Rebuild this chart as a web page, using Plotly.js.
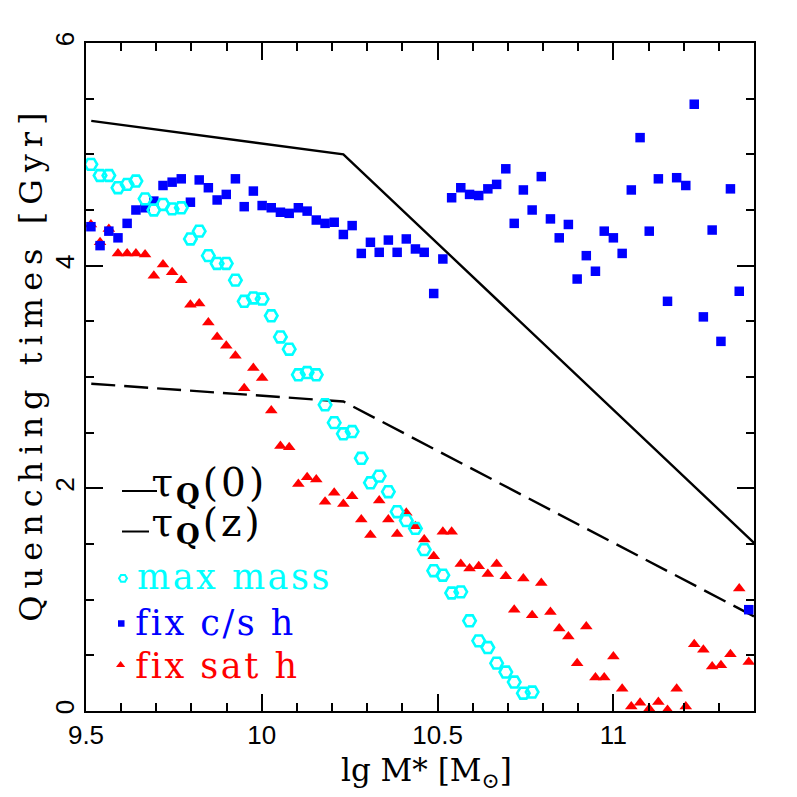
<!DOCTYPE html>
<html>
<head>
<meta charset="utf-8">
<script src="https://cdn.plot.ly/plotly-3.0.1.min.js"></script>
<style>
html,body{margin:0;padding:0;background:#fff;}
#chart{width:797px;height:797px;}
g.annotation text{letter-spacing:2.5px;}
g.annotation[data-index="0"] text, g.annotation[data-index="1"] text{letter-spacing:3px;}
g.annotation[data-index="5"] text{letter-spacing:0px;}
g.annotation[data-index="6"] text{letter-spacing:7px;}
</style>
</head>
<body>
<div id="chart"></div>
<script>
// log stellar mass grid (bin centres)
const lgMass = [
  9.514, 9.540, 9.565, 9.591, 9.617, 9.642, 9.668, 9.693, 9.719, 9.745,
  9.771, 9.797, 9.822, 9.848, 9.873, 9.899, 9.925, 9.950, 9.976, 10.001,
  10.027, 10.053, 10.078, 10.104, 10.129, 10.155, 10.180, 10.206, 10.232, 10.257,
  10.283, 10.309, 10.334, 10.360, 10.385, 10.411, 10.437, 10.462, 10.489, 10.515,
  10.540, 10.566, 10.591, 10.617, 10.643, 10.668, 10.694, 10.718, 10.744, 10.769,
  10.795, 10.821, 10.846, 10.872, 10.897, 10.923, 10.949, 10.974, 11.000, 11.025,
  11.051, 11.076, 11.102, 11.128, 11.154, 11.180, 11.206, 11.230, 11.256, 11.281,
  11.306, 11.333, 11.358, 11.385
];
// "max mass" (first 50 mass bins)
const maxMass = [
  4.91, 4.81, 4.81, 4.70, 4.73, 4.76, 4.60, 4.50, 4.55, 4.51,
  4.52, 4.24, 4.31, 4.09, 4.02, 4.02, 3.87, 3.68, 3.71, 3.70,
  3.55, 3.36, 3.25, 3.02, 3.04, 3.02, 2.75, 2.59, 2.49, 2.51,
  2.27, 2.05, 2.11, 1.97, 1.79, 1.71, 1.64, 1.45, 1.26, 1.22,
  1.06, 1.07, 0.81, 0.63, 0.57, 0.43, 0.35, 0.26, 0.16, 0.17
];
// "fix c/s h"
const fixCsH = [
  4.35, 4.18, 4.31, 4.25, 4.38, 4.50, 4.52, 4.58, 4.72, 4.75,
  4.78, 4.57, 4.77, 4.70, 4.59, 4.64, 4.78, 4.53, 4.67, 4.54,
  4.52, 4.48, 4.47, 4.52, 4.49, 4.41, 4.38, 4.39, 4.28, 4.36,
  4.11, 4.21, 4.12, 4.23, 4.12, 4.24, 4.15, 4.12, 3.75, 4.06,
  4.61, 4.70, 4.64, 4.63, 4.69, 4.73, 4.87, 4.38, 4.68, 4.50,
  4.80, 4.42, 4.25, 4.37, 3.88, 4.09, 3.95, 4.31, 4.25, 4.11,
  4.68, 5.15, 4.31, 4.78, 3.68, 4.79, 4.72, 5.45, 3.54, 4.32,
  3.32, 4.69, 3.77, 0.91
];
// "fix sat h"
const fixSatH = [
  4.37, 4.21, 4.33, 4.11, 4.11, 4.11, 4.10, 3.91, 4.01, 3.94,
  3.87, 3.65, 3.66, 3.49, 3.36, 3.28, 3.19, 2.90, 3.08, 2.99,
  2.70, 2.38, 2.37, 2.04, 2.10, 2.08, 1.88, 1.96, 1.86, 1.93,
  1.72, 1.58, 1.89, 1.72, 1.59, 1.78, 1.66, 1.54, 1.39, 1.61,
  1.61, 1.32, 1.28, 1.30, 1.23, 1.32, 1.21, 0.91, 1.19, 0.86,
  1.15, 0.89, 0.74, 0.67, 0.43, 0.76, 0.30, 0.30, 0.49, 0.20,
  0.04, 0.075, 0.02, 0.08, 0.01, 0.20, 0.04, 0.60, 0.55, 0.40,
  0.41, 0.51, 1.10, 0.44
];
// model curves
const tauX = [9.515, 10.232, 11.4];
const tauQ0 = [5.30, 5.00, 1.51];
const tauQz = [2.94, 2.78, 0.85];
// axis ticks
const xTicks = [9.5, 10, 10.5, 11];
const xTickText = ['9.5', '10', '10.5', '11'];
const yTicks = [0, 2, 4, 6];
const yTickText = ['0', '2', '4', '6'];

const CYAN = '#00FFFF', BLUE = '#0000FF', RED = '#FF0000';
const SERIF = 'DejaVu Serif, serif';

const traces = [
  {x: tauX, y: tauQ0, mode: 'lines', line: {color: '#000', width: 2.4}, hoverinfo: 'skip'},
  {x: tauX, y: tauQz, mode: 'lines', line: {color: '#000', width: 2.4, dash: '24px,9px'}, hoverinfo: 'skip'},
  {x: lgMass, y: fixSatH, mode: 'markers',
   marker: {symbol: 'triangle-up', size: 11, color: RED, line: {width: 0}}},
  {x: lgMass, y: fixCsH, mode: 'markers',
   marker: {symbol: 'square', size: 9.5, color: BLUE, line: {width: 0}}},
  {x: lgMass.slice(0, maxMass.length), y: maxMass, mode: 'markers',
   marker: {symbol: 'hexagon2-open', size: 12.5, color: CYAN, line: {width: 2.6, color: CYAN}}},
  // legend symbols on an overlay paper-like axis
  {x: [0.0554], y: [0.1986], xaxis: 'x2', yaxis: 'y2', mode: 'markers',
   marker: {symbol: 'hexagon2-open', size: 8, color: CYAN, line: {width: 2, color: CYAN}}},
  {x: [0.0528], y: [0.131], xaxis: 'x2', yaxis: 'y2', mode: 'markers',
   marker: {symbol: 'square', size: 6.5, color: BLUE}},
  {x: [0.0518], y: [0.0689], xaxis: 'x2', yaxis: 'y2', mode: 'markers',
   marker: {symbol: 'triangle-up', size: 8, color: RED}}
];

const axisCommon = {
  showgrid: false, zeroline: false, showline: true, linecolor: '#000', linewidth: 2,
  ticks: 'inside', ticklen: 17, tickwidth: 2, tickcolor: '#000', mirror: 'allticks',
  tickfont: {family: 'Liberation Sans, Arial, sans-serif', size: 26, color: '#000'}
};

const layout = {
  width: 797, height: 797,
  margin: {l: 86, r: 43, t: 43, b: 86, pad: 0},
  paper_bgcolor: '#fff', plot_bgcolor: '#fff',
  showlegend: false,
  xaxis: Object.assign({}, axisCommon, {
    range: [9.5, 11.4], tickmode: 'array', tickvals: xTicks, ticktext: xTickText,
    minor: {dtick: 0.1, tick0: 9.5, ticks: 'inside', ticklen: 8, tickwidth: 2, tickcolor: '#000'}
  }),
  yaxis: Object.assign({}, axisCommon, {
    range: [0, 6], tickmode: 'array', tickvals: yTicks, ticktext: yTickText, tickangle: -90,
    minor: {dtick: 0.5, tick0: 0, ticks: 'inside', ticklen: 8, tickwidth: 2, tickcolor: '#000'}
  }),
  xaxis2: {overlaying: 'x', range: [0, 1], visible: false, fixedrange: true},
  yaxis2: {overlaying: 'y', range: [0, 1], visible: false, fixedrange: true},
  shapes: [
    {type: 'line', xref: 'paper', yref: 'paper', x0: 0.0539, x1: 0.1063, y0: 0.3293, y1: 0.3293,
     line: {color: '#000', width: 2}},
    {type: 'line', xref: 'paper', yref: 'paper', x0: 0.0539, x1: 0.0943, y0: 0.2687, y1: 0.2687,
     line: {color: '#000', width: 2}}
  ],
  annotations: [
    {text: 'τ<sub><b>Q</b></sub>(0)', xref: 'paper', yref: 'paper', x: 0.1063, y: 0.3383,
     xanchor: 'left', yanchor: 'middle', showarrow: false, font: {family: SERIF, size: 39, color: '#000'}},
    {text: 'τ<sub><b>Q</b></sub>(z)', xref: 'paper', yref: 'paper', x: 0.1063, y: 0.2784,
     xanchor: 'left', yanchor: 'middle', showarrow: false, font: {family: SERIF, size: 39, color: '#000'}},
    {text: 'max mass', xref: 'paper', yref: 'paper', x: 0.089, y: 0.2006,
     xanchor: 'left', yanchor: 'middle', showarrow: false, font: {family: SERIF, size: 35, color: CYAN}},
    {text: 'fix c/s h', xref: 'paper', yref: 'paper', x: 0.089, y: 0.1317,
     xanchor: 'left', yanchor: 'middle', showarrow: false, font: {family: SERIF, size: 35, color: BLUE}},
    {text: 'fix sat h', xref: 'paper', yref: 'paper', x: 0.089, y: 0.0674,
     xanchor: 'left', yanchor: 'middle', showarrow: false, font: {family: SERIF, size: 35, color: RED}},
    {text: 'lg M* [M<sub>⊙</sub>]', xref: 'paper', yref: 'paper', x: 0.509, y: -0.092,
     xanchor: 'center', yanchor: 'middle', showarrow: false, font: {family: SERIF, size: 31, color: '#000'}},
    {text: 'Quenching times [Gyr]', xref: 'paper', yref: 'paper', x: -0.082, y: 0.5195, textangle: -90,
     xanchor: 'center', yanchor: 'middle', showarrow: false, font: {family: SERIF, size: 32, color: '#000'}}
  ]
};

Plotly.newPlot('chart', traces, layout, {displayModeBar: false, staticPlot: true});
</script>
</body>
</html>
